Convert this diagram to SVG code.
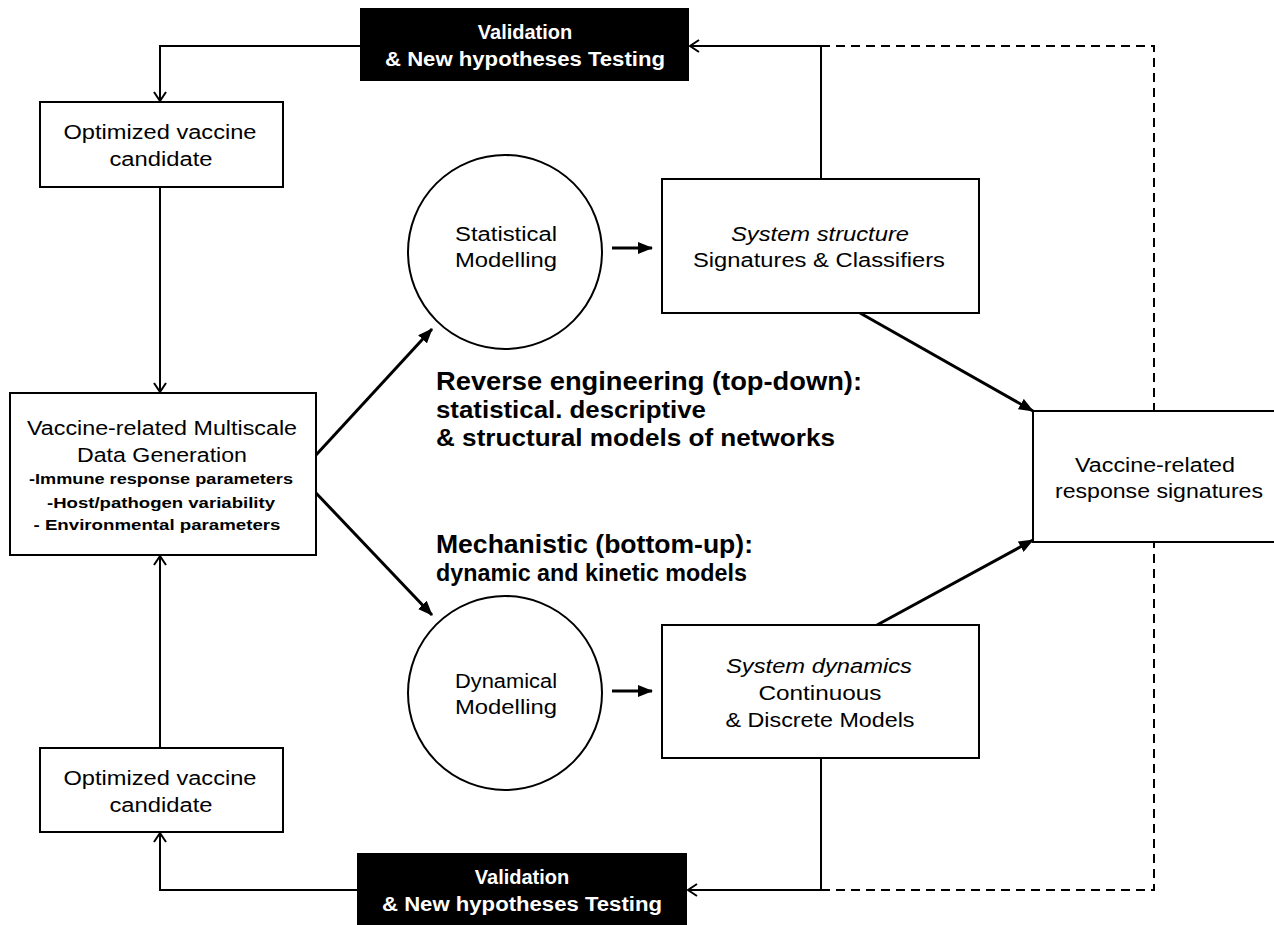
<svg xmlns="http://www.w3.org/2000/svg" width="1274" height="925" viewBox="0 0 1274 925">
<style>
.box{fill:#fff;stroke:#000;stroke-width:2}
.blk{fill:#000;stroke:none}
.t{font-family:"Liberation Sans",Arial,sans-serif;font-size:20px;fill:#000;text-anchor:middle}
.tw{font-family:"Liberation Sans",Arial,sans-serif;font-size:20px;font-weight:bold;fill:#fff;text-anchor:middle}
.ts{font-family:"Liberation Sans",Arial,sans-serif;font-size:15px;font-weight:bold;fill:#000;text-anchor:middle}
.tb{font-family:"Liberation Sans",Arial,sans-serif;font-weight:bold;fill:#000}
.ln{fill:none;stroke:#000;stroke-width:2}
.th{fill:none;stroke:#000;stroke-width:3}
.ds{fill:none;stroke:#000;stroke-width:2;stroke-dasharray:9,6}
</style>
<defs>
<marker id="open" markerWidth="14" markerHeight="14" refX="11" refY="7" orient="auto" markerUnits="userSpaceOnUse">
<path d="M2,1 L11,7 L2,13" fill="none" stroke="#000" stroke-width="2"/>
</marker>
<marker id="fill" markerWidth="16" markerHeight="12" refX="14" refY="6" orient="auto" markerUnits="userSpaceOnUse">
<path d="M0,0 L15,6 L0,12 Z" fill="#000"/>
</marker>
</defs>
<g id="connectors">
<polyline class="ln" points="360,46 160,46 160,101" marker-end="url(#open)"/>
<line class="ln" x1="160" y1="187" x2="160" y2="392" marker-end="url(#open)"/>
<line class="ln" x1="160" y1="748" x2="160" y2="556" marker-end="url(#open)"/>
<polyline class="ln" points="357,890 160,890 160,833" marker-end="url(#open)"/>
<polyline class="ln" points="821,179 821,46 690,46" marker-end="url(#open)"/>
<polyline class="ln" points="821,758 821,890 688,890" marker-end="url(#open)"/>
<polyline class="ds" points="821,46 1154,46 1154,411"/>
<polyline class="ds" points="821,890 1154,890 1154,542"/>
<line class="th" x1="316" y1="455" x2="432" y2="329" marker-end="url(#fill)"/>
<line class="th" x1="316" y1="493" x2="432" y2="615" marker-end="url(#fill)"/>
<line class="th" x1="612" y1="248" x2="652" y2="248" marker-end="url(#fill)"/>
<line class="th" x1="612" y1="691" x2="652" y2="691" marker-end="url(#fill)"/>
<line class="th" x1="860" y1="313" x2="1033" y2="411" marker-end="url(#fill)"/>
<line class="th" x1="877" y1="625" x2="1033" y2="540" marker-end="url(#fill)"/>
</g>
<g id="validation-top">
<rect class="blk" x="360" y="8" width="329" height="73"/>
<text class="tw" x="525" y="39">Validation</text>
<text class="tw" x="525" y="66" textLength="280" lengthAdjust="spacingAndGlyphs">&amp; New hypotheses Testing</text>
</g>
<g id="validation-bottom">
<rect class="blk" x="357" y="853" width="330" height="72"/>
<text class="tw" x="522" y="884">Validation</text>
<text class="tw" x="522" y="911" textLength="280" lengthAdjust="spacingAndGlyphs">&amp; New hypotheses Testing</text>
</g>
<g id="optimized-top">
<rect class="box" x="40" y="102" width="243" height="85"/>
<text class="t" x="160" y="139" textLength="193" lengthAdjust="spacingAndGlyphs">Optimized vaccine</text>
<text class="t" x="161" y="166" textLength="103" lengthAdjust="spacingAndGlyphs">candidate</text>
</g>
<g id="optimized-bottom">
<rect class="box" x="40" y="748" width="243" height="84"/>
<text class="t" x="160" y="785" textLength="193" lengthAdjust="spacingAndGlyphs">Optimized vaccine</text>
<text class="t" x="161" y="812" textLength="103" lengthAdjust="spacingAndGlyphs">candidate</text>
</g>
<g id="data-generation">
<rect class="box" x="10" y="393" width="306" height="162"/>
<text class="t" x="162" y="435" textLength="270" lengthAdjust="spacingAndGlyphs">Vaccine-related Multiscale</text>
<text class="t" x="162" y="462" textLength="170" lengthAdjust="spacingAndGlyphs">Data Generation</text>
<text class="ts" x="161" y="484" textLength="264" lengthAdjust="spacingAndGlyphs">-Immune response parameters</text>
<text class="ts" x="161" y="508" textLength="228" lengthAdjust="spacingAndGlyphs">-Host/pathogen variability</text>
<text class="ts" x="157" y="530" textLength="247" lengthAdjust="spacingAndGlyphs">- Environmental parameters</text>
</g>
<g id="statistical">
<circle class="box" cx="505" cy="252" r="97"/>
<text class="t" x="506" y="241" textLength="102" lengthAdjust="spacingAndGlyphs">Statistical</text>
<text class="t" x="506" y="267" textLength="102" lengthAdjust="spacingAndGlyphs">Modelling</text>
</g>
<g id="dynamical">
<circle class="box" cx="505" cy="693" r="97"/>
<text class="t" x="506" y="688" textLength="102" lengthAdjust="spacingAndGlyphs">Dynamical</text>
<text class="t" x="506" y="714" textLength="102" lengthAdjust="spacingAndGlyphs">Modelling</text>
</g>
<g id="system-structure">
<rect class="box" x="662" y="179" width="317" height="134"/>
<text class="t" x="820" y="241" font-style="italic" textLength="178" lengthAdjust="spacingAndGlyphs">System structure</text>
<text class="t" x="819" y="267" textLength="252" lengthAdjust="spacingAndGlyphs">Signatures &amp; Classifiers</text>
</g>
<g id="system-dynamics">
<rect class="box" x="662" y="625" width="317" height="133"/>
<text class="t" x="819" y="673" font-style="italic" textLength="186" lengthAdjust="spacingAndGlyphs">System dynamics</text>
<text class="t" x="820" y="700" textLength="123" lengthAdjust="spacingAndGlyphs">Continuous</text>
<text class="t" x="820" y="727" textLength="189" lengthAdjust="spacingAndGlyphs">&amp; Discrete Models</text>
</g>
<g id="response-signatures">
<rect class="box" x="1033" y="411" width="260" height="131"/>
<text class="t" x="1155" y="472" textLength="160" lengthAdjust="spacingAndGlyphs">Vaccine-related</text>
<text class="t" x="1159" y="498" textLength="208" lengthAdjust="spacingAndGlyphs">response signatures</text>
</g>
<g id="labels">
<text class="tb" x="436" y="390" font-size="25" textLength="426" lengthAdjust="spacingAndGlyphs">Reverse engineering (top-down):</text>
<text class="tb" x="436" y="418" font-size="23" textLength="270" lengthAdjust="spacingAndGlyphs">statistical. descriptive</text>
<text class="tb" x="436" y="446" font-size="23" textLength="399" lengthAdjust="spacingAndGlyphs">&amp; structural models of networks</text>
<text class="tb" x="436" y="553" font-size="25" textLength="317" lengthAdjust="spacingAndGlyphs">Mechanistic (bottom-up):</text>
<text class="tb" x="436" y="581" font-size="23" textLength="311" lengthAdjust="spacingAndGlyphs">dynamic and kinetic models</text>
</g>
</svg>
